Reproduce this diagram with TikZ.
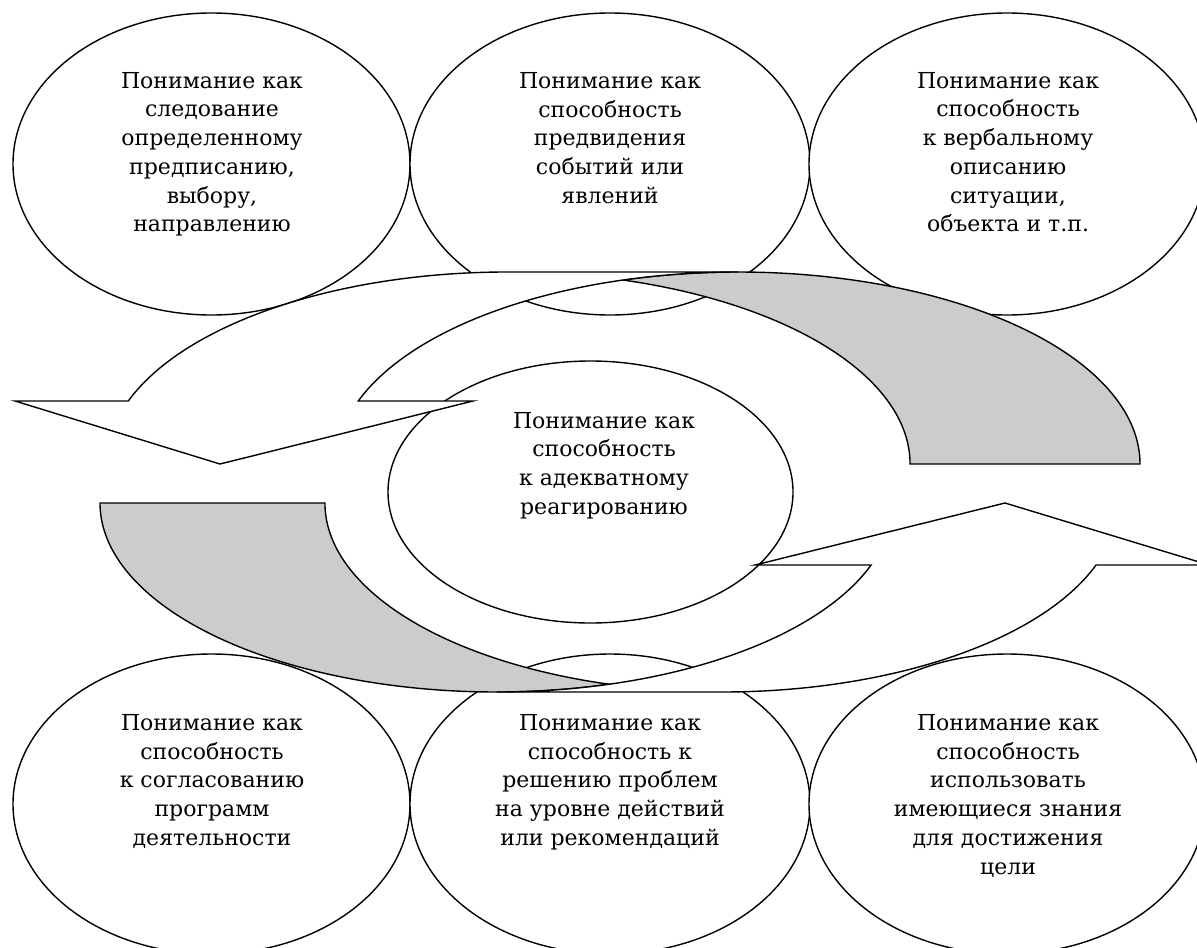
\documentclass[tikz,border=0pt]{standalone}
\usepackage{fontspec}
\setmainfont{DejaVu Serif}
\usetikzlibrary{shapes.geometric}
\definecolor{shade}{RGB}{204,204,204}
\begin{document}
\begin{tikzpicture}[x=0.5pt,y=-0.5pt,
  bubble/.style={ellipse, draw=black, fill=white, line width=0.7pt, inner sep=0pt, outer sep=0pt},
  txt/.style={align=center, anchor=base, inner sep=0pt, font=\fontsize{11}{14.35}\selectfont},
  frontpart/.style={draw=black, fill=white, line width=0.7pt, line join=miter},
  backpart/.style={draw=black, fill=shade, line width=0.7pt, line join=miter}
]
\path[use as bounding box] (0,0) rectangle (1197,947);
\clip (0,0) rectangle (1197,947);
\fill[white] (0,0) rectangle (1197,947);

% ellipses
\node[bubble, minimum width=198.5pt, minimum height=151pt] (e1) at (211.5,164) {};
\node[bubble, minimum width=200pt,   minimum height=151pt] (e2) at (610,164) {};
\node[bubble, minimum width=198pt,   minimum height=151pt] (e3) at (1007,164) {};
\node[bubble, minimum width=198.5pt, minimum height=150pt] (e4) at (211.5,804) {};
\node[bubble, minimum width=200pt,   minimum height=150pt] (e5) at (610,804) {};
\node[bubble, minimum width=198pt,   minimum height=150pt] (e6) at (1007,804) {};
\node[bubble, minimum width=202.5pt, minimum height=131pt] (ec) at (590.5,492) {};

% top curved arrow (pointing down-left)
\path[backpart] (1140,464)
  arc[start angle=0, end angle=-106.62, x radius=402, y radius=192]
  arc[start angle=-73.38, end angle=0, x radius=402, y radius=192] -- cycle;
\path[frontpart] (128.3,401)
  arc[start angle=-160.85, end angle=-90, x radius=402, y radius=192]
  -- (738,272)
  arc[start angle=-90, end angle=-160.85, x radius=402, y radius=192]
  -- (473,401) -- (220,464) -- (15,401) -- cycle;

% bottom curved arrow (pointing up-right)
\path[backpart] (100,503)
  arc[start angle=180, end angle=73.52, x radius=396.5, y radius=189]
  arc[start angle=106.48, end angle=180, x radius=396.5, y radius=189] -- cycle;
\path[frontpart] (871.1,565)
  arc[start angle=19.15, end angle=90, x radius=396.5, y radius=189]
  -- (721.5,692)
  arc[start angle=90, end angle=19.15, x radius=396.5, y radius=189]
  -- (1209,565) -- (1005,503) -- (755,565) -- cycle;

% texts (anchored at the baseline of the last line)
\node[txt] (t1) at (212,231.8) {Понимание как\\следование\\определенному\\предписанию,\\выбору,\\направлению};
\node[txt] (t2) at (610,203.1) {Понимание как\\способность\\предвидения\\событий или\\явлений};
\node[txt] (t3) at (1008,231.8) {Понимание как\\способность\\к вербальному\\описанию\\ситуации,\\объекта и т.п.};
\node[txt] (tc) at (604,514.1) {Понимание как\\способность\\к адекватному\\реагированию};
\node[txt] (t4) at (212,845.3) {Понимание как\\способность\\к согласованию\\программ\\деятельности};
\node[txt] (t5) at (610,845.3) {Понимание как\\способность к\\решению проблем\\на уровне действий\\или рекомендаций};
\node[txt] (t6) at (1008,874) {Понимание как\\способность\\использовать\\имеющиеся знания\\для достижения\\цели};
\end{tikzpicture}
\end{document}
